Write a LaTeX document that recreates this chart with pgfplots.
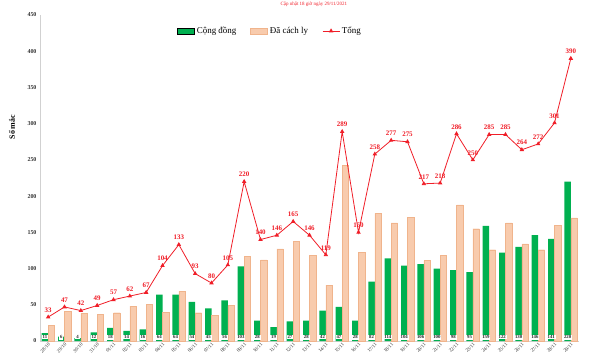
\documentclass[border=0pt]{standalone}
\usepackage{pgfplots}
\usepackage{pgfplotstable}
\pgfplotsset{compat=1.18}
\usepackage{fontspec}
\setmainfont{Liberation Serif}
\definecolor{cdgreen}{RGB}{0,176,80}
\definecolor{clpeach}{RGB}{248,203,173}
\definecolor{clborder}{RGB}{240,180,140}
\definecolor{tongred}{RGB}{240,30,40}
\pgfplotstableread{
x cd cl tong
0 11 22 33
1 6 41 47
2 4 38 42
3 12 37 49
4 18 39 57
5 14 48 62
6 16 51 67
7 64 40 104
8 64 69 133
9 54 39 93
10 45 35 80
11 56 49 105
12 103 117 220
13 28 112 140
14 19 127 146
15 27 138 165
16 28 118 146
17 42 77 119
18 47 242 289
19 28 122 150
20 82 176 258
21 114 163 277
22 104 171 275
23 106 111 217
24 100 118 218
25 98 188 286
26 95 155 250
27 159 126 285
28 122 163 285
29 130 134 264
30 146 126 272
31 141 160 301
32 220 170 390
}\datatable
\begin{document}
\begin{tikzpicture}[x=1bp,y=1bp]
\path[use as bounding box] (-40bp,-19bp) rectangle (560bp,341bp);
\begin{axis}[
  at={(0,0)}, anchor=south west,
  scale only axis, width=539bp, height=326bp,
  xmin=-0.5, xmax=32.5, ymin=0, ymax=450,
  ytick={0,50,...,450},
  xtick={0,...,32},
  xticklabels={28/10,29/10,30/10,31/10,01/11,02/11,03/11,04/11,05/11,06/11,07/11,08/11,09/11,10/11,11/11,12/11,13/11,14/11,15/11,16/11,17/11,18/11,19/11,20/11,21/11,22/11,23/11,24/11,25/11,26/11,27/11,28/11,29/11},
  x tick label style={rotate=45, anchor=north east, font=\fontsize{5}{5}\selectfont, text=black!80, inner sep=1bp},
  y tick label style={font=\bfseries\fontsize{6}{6}\selectfont, text=black!80},
  /pgf/number format/assume math mode=true,
  axis lines=left,
  axis line style={-, black!18},
  major tick length=0pt,
  ylabel={Số mắc},
  ylabel style={font=\bfseries\fontsize{8}{8}\selectfont, at={(axis description cs:-0.052,0.656)}, anchor=center},
  legend style={at={(axis description cs:0.427,0.951)}, anchor=center, draw=none, fill=none, font=\fontsize{9}{9}\selectfont, legend columns=3, /tikz/every even column/.append style={column sep=12bp}},
  legend cell align=left,
  clip=false,
]
\addplot[ybar, bar width=6.5bp, bar shift=-3.25bp, fill=cdgreen, draw=none, area legend] table[x=x, y=cd] {\datatable};
\addlegendentry{Cộng đồng}
\addplot[ybar, bar width=6.5bp, bar shift=3.25bp, fill=clpeach, draw=clborder, line width=0.4bp, area legend] table[x=x, y=cl] {\datatable};
\addlegendentry{Đã cách ly}
\addplot[tongred, line width=0.8bp, mark=triangle*, mark size=1.8bp,
  nodes near coords, point meta=explicit,
  every node near coord/.append style={font=\bfseries\fontsize{7}{7}\selectfont, text=tongred, anchor=south, yshift=1bp}]
  table[x=x, y=tong, meta=tong] {\datatable};
\addlegendentry{Tổng}
\addplot[draw=none, mark=none, nodes near coords, point meta=explicit, forget plot,
  every node near coord/.append style={font=\bfseries\fontsize{4.8}{4.8}\selectfont, text=black!85, fill=white, inner sep=0.9bp, anchor=center, xshift=-3.25bp}]
  table[x=x, y expr=5.5, meta=cd] {\datatable};
\node[font=\fontsize{5}{5}\selectfont, text=tongred, inner sep=0.5bp] at (axis description cs:0.508,1.034) {Cập nhật 18 giờ ngày 29/11/2021};
\end{axis}
\end{tikzpicture}
\end{document}
